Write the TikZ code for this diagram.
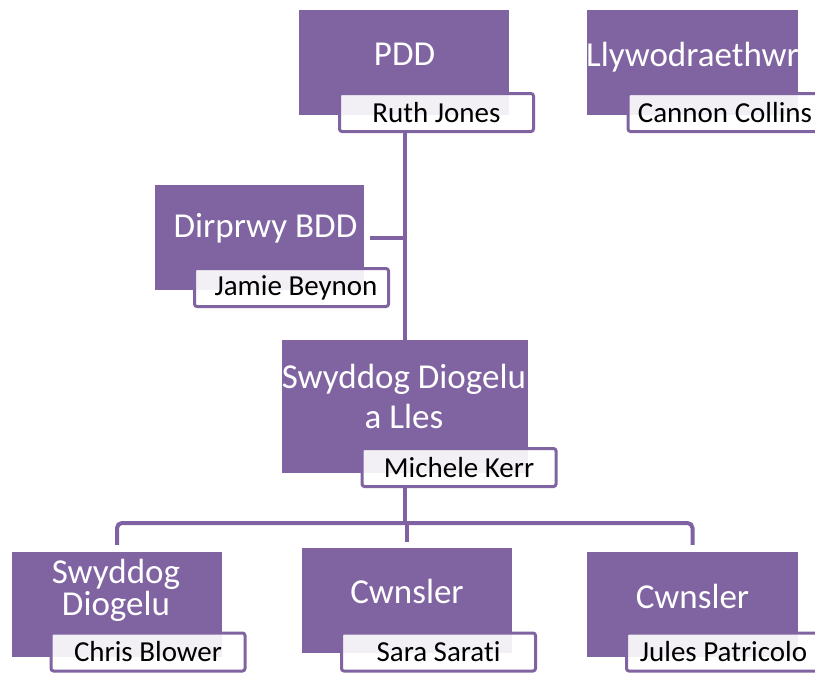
\documentclass[tikz,border=0pt]{standalone}
\usepackage{fontspec}
\setmainfont[Ligatures=NoCommon]{Carlito}
\definecolor{purp}{HTML}{8064A2}
\definecolor{connc}{HTML}{7E62A1}
\tikzset{
  rolebox/.style={fill=purp, draw=none, inner sep=0pt, minimum width=#1, minimum height=105pt},
  rolebox/.default=210pt,
  roletext/.style={text=white, font=\fontsize{35}{40}\selectfont, anchor=base, inner sep=0pt, align=center},
  namebox/.style={draw=purp, line width=3pt, fill=white, fill opacity=0.9, text opacity=1,
    rounded corners=2.5pt, minimum width=194pt, minimum height=38pt, inner sep=0pt,
    font=\fontsize{29}{34}\selectfont, text=black},
  conn/.style={draw=connc, line width=4pt}
}
\begin{document}
\begin{tikzpicture}[x=1pt,y=-1pt]
\useasboundingbox (0,0) rectangle (815,673);
\clip (0,0) rectangle (815,673);
\fill[white] (0,0) rectangle (815,673);
% role boxes
\node[rolebox] (pdd) at (404,62.5) {};
\node[rolebox=211pt] (llyw) at (692.5,62.5) {};
\node[rolebox=209pt] (dirp) at (259.5,237.5) {};
\node[rolebox=246pt, minimum height=133pt] (swy) at (405,406.5) {};
\node[rolebox] (bl) at (117,604.5) {};
\node[rolebox] (mid) at (407,600.5) {};
\node[rolebox=211pt] (rt) at (692.5,604.5) {};
% titles
\node[roletext] (tpdd) at (404.5,65) {PDD};
\node[roletext] (tllyw) at (692.5,66) {Llywodraethwr};
\node[roletext] (tdirp) at (265.5,237) {Dirprwy BDD};
\node[roletext, anchor=north] (tswy) at (404,364) {Swyddog Diogelu\\a Lles};
\node[roletext, anchor=north, font=\fontsize{35}{32}\selectfont] (tbl) at (116,559) {Swyddog\\Diogelu};
\node[roletext] (tmid) at (407,603) {Cwnsler};
\node[roletext] (trt) at (692.5,608) {Cwnsler};
% name boxes
\node[namebox] (pddname) at (436.5,112.5) {Ruth Jones};
\node[namebox] (llywname) at (725,112.5) {Cannon Collins};
\node[namebox] (dirpname) at (291.5,287.5) {\hspace*{9pt}Jamie Beynon};
\node[namebox] (swyname) at (459,467.5) {Michele Kerr};
\node[namebox] (blname) at (148,652) {Chris Blower};
\node[namebox] (midname) at (438.5,652) {Sara Sarati};
\node[namebox] (rtname) at (723.5,652) {Jules Patricolo};
% connectors
\coordinate (bar) at (405,523);
\draw[conn] (swy.north |- pddname.south) -- (swy.north);
\draw[conn] ([xshift=6pt]dirp.east) -- (dirp.east -| swy.north);
\draw[conn] (swy.north |- swyname.south) -- (bar);
\draw[conn, rounded corners=5pt] ([yshift=7pt]bl.north) |- (bar) -| ([yshift=7pt]rt.north);
\draw[conn] (bar -| mid.north) -- ([yshift=6pt]mid.north);
\end{tikzpicture}
\end{document}
